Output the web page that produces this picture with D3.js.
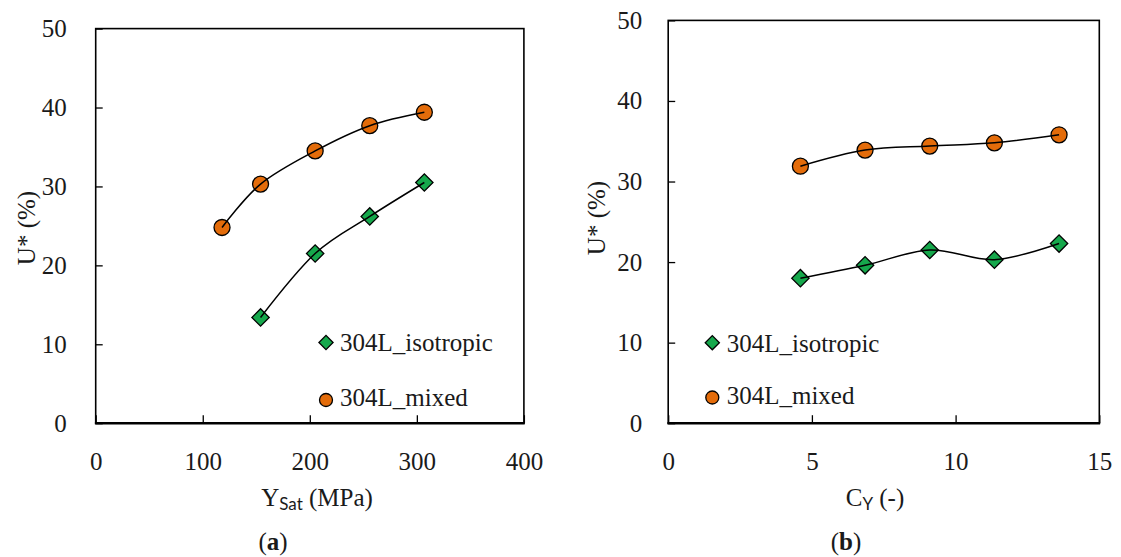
<!DOCTYPE html>
<html>
<head>
<meta charset="utf-8">
<script src="https://cdn.jsdelivr.net/npm/d3@7"></script>
<style>
  body { margin: 0; background: #fff; }
  svg { display: block; }
</style>
</head>
<body>
<svg id="chart" width="1121" height="557"></svg>
<script>
// Panel (a): U* against saturation stress Y_Sat (MPa)
const ysatIsotropic = [154, 205, 256, 307];
const uIsotropicA   = [13.4, 21.5, 26.2, 30.5];
const ysatMixed     = [118, 154, 205, 256, 307];
const uMixedA       = [24.8, 30.3, 34.5, 37.7, 39.4];

// Panel (b): U* against hardening parameter C_Y (-)
const cyValues    = [4.6, 6.85, 9.1, 11.35, 13.6];
const uIsotropicB = [18.0, 19.6, 21.5, 20.3, 22.3];
const uMixedB     = [31.9, 33.9, 34.4, 34.8, 35.8];

// Axis ticks and labels
const ticksYsat = [0, 100, 200, 300, 400];
const ticksCy   = [0, 5, 10, 15];
const ticksU    = [0, 10, 20, 30, 40, 50];
const seriesNames = ["304L_isotropic", "304L_mixed"];

const GREEN = "#16a84c";
const ORANGE = "#e46c0a";
const FONT = 25;
const SERIF = "'Liberation Serif', 'Times New Roman', serif";
const SANS = "Lato, 'Open Sans', sans-serif";

const svg = d3.select("#chart");

const panels = [
  {
    left: 95.7, right: 523.9, top: 28.6, bottom: 423.2,
    xDomain: [0, 400], xTicks: ticksYsat,
    iso: ysatIsotropic.map((x, i) => [x, uIsotropicA[i]]),
    mix: ysatMixed.map((x, i) => [x, uMixedA[i]]),
    yPad: 29,
    yTitle: { x: 35, y: 228 },
    xTitle: { x: 317, main: "Y", sub: "Sat", rest: " (MPa)" },
    caption: { x: 273, letter: "a" },
    legend: { mx: 326, tx: 340, isoY: 350.5, isoM: 342.5, mixY: 405.5, mixM: 400 }
  },
  {
    left: 668.2, right: 1099.3, top: 20.4, bottom: 423.2,
    xDomain: [0, 15], xTicks: ticksCy,
    iso: cyValues.map((x, i) => [x, uIsotropicB[i]]),
    mix: cyValues.map((x, i) => [x, uMixedB[i]]),
    yPad: 26,
    yTitle: { x: 605, y: 218 },
    xTitle: { x: 875, main: "C", sub: "Y", rest: " (-)" },
    caption: { x: 846, letter: "b" },
    legend: { mx: 712.3, tx: 726.7, isoY: 351.5, isoM: 342.7, mixY: 403.5, mixM: 397.5 }
  }
];

const diamond = (area) => d3.symbol(d3.symbolSquare, area);

panels.forEach(p => {
  const x = d3.scaleLinear().domain(p.xDomain).range([p.left, p.right]);
  const y = d3.scaleLinear().domain([0, 50]).range([p.bottom, p.top]);
  const g = svg.append("g");

  // plot frame
  g.append("rect")
    .attr("x", p.left).attr("y", p.top)
    .attr("width", p.right - p.left).attr("height", p.bottom - p.top)
    .attr("fill", "none").attr("stroke", "#000").attr("stroke-width", 1.6);
  g.append("line")
    .attr("x1", p.left - 0.8).attr("x2", p.right + 0.8)
    .attr("y1", p.bottom).attr("y2", p.bottom)
    .attr("stroke", "#000").attr("stroke-width", 2.6);

  // x axis: ticks point inward
  const xAxis = g.append("g")
    .attr("transform", `translate(0,${p.bottom})`)
    .call(d3.axisBottom(x).tickValues(p.xTicks).tickSize(-8).tickPadding(29).tickSizeOuter(0));
  xAxis.select(".domain").remove();
  xAxis.attr("font-family", SERIF).attr("font-size", FONT);
  xAxis.selectAll("line").attr("stroke", "#000").attr("stroke-width", 1.3);
  xAxis.selectAll("text").style("font-family", SERIF).style("font-size", FONT + "px").attr("fill", "#1a1a1a");

  // y axis: ticks point inward
  const yAxis = g.append("g")
    .attr("transform", `translate(${p.left},0)`)
    .call(d3.axisLeft(y).tickValues(ticksU).tickSize(-7).tickPadding(p.yPad).tickSizeOuter(0));
  yAxis.select(".domain").remove();
  yAxis.attr("font-family", SERIF).attr("font-size", FONT);
  yAxis.selectAll("line").attr("stroke", "#000").attr("stroke-width", 1.3);
  yAxis.selectAll("text").style("font-family", SERIF).style("font-size", FONT + "px").attr("fill", "#1a1a1a");

  // markers
  g.selectAll(".iso").data(p.iso).enter().append("path")
    .attr("d", diamond(150)())
    .attr("transform", d => `translate(${x(d[0])},${y(d[1])}) rotate(45)`)
    .attr("fill", GREEN).attr("stroke", "#000").attr("stroke-width", 1.3);
  g.selectAll(".mix").data(p.mix).enter().append("circle")
    .attr("cx", d => x(d[0])).attr("cy", d => y(d[1])).attr("r", 8)
    .attr("fill", ORANGE).attr("stroke", "#000").attr("stroke-width", 1.3);

  // smoothed connecting curves
  const line = d3.line().x(d => x(d[0])).y(d => y(d[1])).curve(d3.curveCardinal.tension(0));
  [p.iso, p.mix].forEach(s => {
    g.append("path").attr("d", line(s))
      .attr("fill", "none").attr("stroke", "#000").attr("stroke-width", 1.5);
  });

  const txt = (sel) => sel.style("font-family", SERIF).style("font-size", FONT + "px").attr("fill", "#1a1a1a");

  // legend
  const L = p.legend;
  g.append("path").attr("d", diamond(100)())
    .attr("transform", `translate(${L.mx},${L.isoM}) rotate(45)`)
    .attr("fill", GREEN).attr("stroke", "#000").attr("stroke-width", 1.3);
  g.append("circle").attr("cx", L.mx).attr("cy", L.mixM).attr("r", 6.5)
    .attr("fill", ORANGE).attr("stroke", "#000").attr("stroke-width", 1.3);
  txt(g.append("text").attr("x", L.tx).attr("y", L.isoY)).text(seriesNames[0]);
  txt(g.append("text").attr("x", L.tx).attr("y", L.mixY)).text(seriesNames[1]);

  // y title
  txt(g.append("text")
    .attr("transform", `translate(${p.yTitle.x},${p.yTitle.y}) rotate(-90)`)
    .attr("text-anchor", "middle"))
    .text("U* (%)");

  // x title with sans-serif subscript
  const xt = txt(g.append("text")
    .attr("x", p.xTitle.x).attr("y", 506)
    .attr("text-anchor", "middle"));
  xt.append("tspan").text(p.xTitle.main);
  xt.append("tspan").style("font-family", SANS)
    .style("font-size", "17px").attr("dy", 4).text(p.xTitle.sub);
  xt.append("tspan").attr("dy", -4).text(p.xTitle.rest);

  // panel caption
  const cap = txt(g.append("text")
    .attr("x", p.caption.x).attr("y", 550)
    .attr("text-anchor", "middle"));
  cap.append("tspan").text("(");
  cap.append("tspan").attr("font-weight", "bold").text(p.caption.letter);
  cap.append("tspan").text(")");
});
</script>
</body>
</html>
